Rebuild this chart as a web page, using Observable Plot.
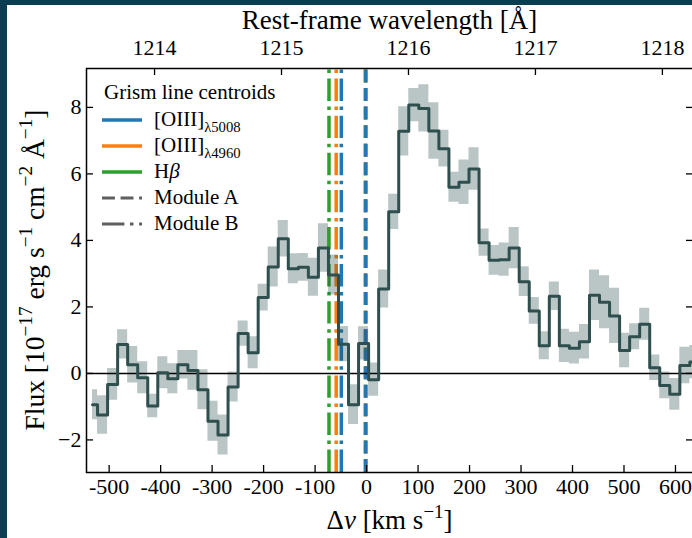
<!DOCTYPE html>
<html><head><meta charset="utf-8">
<script src="https://cdn.jsdelivr.net/npm/d3@7"></script>
<script src="https://cdn.jsdelivr.net/npm/@observablehq/plot@0.6"></script>
<style>
html,body{margin:0;padding:0;background:#0b3d50;overflow:hidden;width:692px;height:538px}
#card{position:absolute;left:7px;top:5px;width:700px;height:540px;background:#fff;color:#000;overflow:hidden}
</style></head><body><div id="card"></div>
<script>
// ---- data ----
const velocity = [-532.3,-512.8,-493.3,-473.8,-454.3,-434.8,-415.3,-395.8,-376.3,-356.8,
  -337.3,-317.8,-298.3,-278.8,-259.3,-239.8,-220.3,-200.8,-181.3,-161.8,
  -142.3,-122.8,-103.3,-83.8,-64.3,-44.8,-25.3,-5.8,13.7,33.2,
  52.7,72.2,91.7,111.2,130.7,150.2,169.7,189.2,208.7,228.2,
  247.7,267.2,286.7,306.2,325.7,345.2,364.7,384.2,403.7,423.2,
  442.7,462.2,481.7,501.2,520.7,540.2,559.7,579.2,598.7,618.2,637.7];
const flux = [-0.94,-1.25,-0.33,0.87,0.26,-0.13,-0.98,0.02,-0.16,0.26,
  0.09,-0.49,-1.44,-1.85,-0.41,1.20,0.62,2.28,3.20,4.05,
  3.15,3.19,2.89,3.77,2.96,0.88,-0.94,0.90,-0.19,2.54,
  4.86,7.28,8.07,7.97,7.29,6.76,5.60,5.75,6.15,3.93,
  3.40,3.42,3.77,2.76,1.88,0.83,2.32,0.83,0.76,0.95,
  2.35,2.14,1.73,0.69,1.10,1.48,0.17,-0.36,-0.63,0.24,0.34];
const fluxErr = [0.45,0.58,0.48,0.44,0.55,0.48,0.35,0.48,0.45,0.43,
  0.60,0.60,0.60,0.60,0.45,0.38,0.48,0.40,0.60,0.55,
  0.45,0.42,0.57,0.73,0.60,0.53,0.60,0.50,0.50,0.57,
  0.53,0.74,0.50,0.71,0.85,0.55,0.45,0.67,0.64,0.41,
  0.45,0.50,0.62,0.45,0.40,0.42,0.43,0.50,0.48,0.52,
  0.76,0.80,0.83,0.52,0.39,0.48,0.38,0.40,0.48,0.55,0.50];

const xTicks = [-500,-400,-300,-200,-100,0,100,200,300,400,500,600];
const yTicks = [-2,0,2,4,6,8];
const waveTicks = [1214,1215,1216,1217,1218];
const lyaRest = 1215.67;
const cLight = 299792.458;

const lineNames = ["[OIII]", "[OIII]", "H"];
const lineSubs = ["λ5008", "λ4960", ""];
const lineColors = ["#1f77b4", "#ff7f0e", "#2ca02c"];
const moduleAVel = [-1.5, -1.5, -2.5];
const moduleBVel = [-49, -59, -73];
const moduleLabels = ["Module A", "Module B"];

const xDomain = [-544, 635];
const yDomain = [-2.98, 9.17];

// ---- build ----
const W = 700, H = 533;
const mL = 79, mR = 14, mT = 63, mB = 66;
const FW = W - mL - mR, FH = H - mT - mB;
const tick = 7;
const dashA = "12.95,5.6";
const dashB = "22.4,5.6,3.5,5.6";

const table = velocity.map((v, i) => ({v, f: flux[i], lo: flux[i] - fluxErr[i], hi: flux[i] + fluxErr[i]}));
const vlinesA = [2,1,0].map(i => ({v: moduleAVel[i], c: lineColors[i]}));
const vlinesB = [2,1,0].map(i => ({v: moduleBVel[i], c: lineColors[i]}));
const topTickVel = waveTicks.map(w => cLight * (w / lyaRest - 1));

const plot = Plot.plot({
  width: W, height: H,
  marginLeft: mL, marginRight: mR, marginTop: mT, marginBottom: mB,
  style: {fontFamily: "'Liberation Serif', serif", fontSize: "22px", background: "white", color: "black", overflow: "visible"},
  x: {domain: xDomain},
  y: {domain: yDomain},
  marks: [
    Plot.ruleX(vlinesB, {x: "v", y1: yDomain[0], y2: yDomain[1], stroke: "c", strokeWidth: 3.5, strokeDasharray: dashB}),
    Plot.ruleX(vlinesA, {x: "v", y1: yDomain[0], y2: yDomain[1], stroke: "c", strokeWidth: 3.5, strokeDasharray: dashA}),
    Plot.areaY(table, {x: "v", y1: "lo", y2: "hi", curve: "step", fill: "#2f4f4f", fillOpacity: 0.33, clip: true}),
    Plot.ruleY([0], {stroke: "black", strokeWidth: 1.5}),
    Plot.line(table, {x: "v", y: "f", curve: "step", stroke: "#2f4f4f", strokeWidth: 3, clip: true}),
    // tick labels
    Plot.axisX({anchor: "bottom", ticks: xTicks, tickSize: 0, tickPadding: 6, tickFormat: d => String(d), label: null}),
    Plot.axisX({anchor: "top", ticks: topTickVel, tickSize: 0, tickPadding: 14,
      tickFormat: v => String(Math.round(lyaRest * (1 + v / cLight))), label: null}),
    Plot.axisY({anchor: "left", ticks: yTicks, tickSize: 0, tickPadding: 5, label: null}),
    // inward tick marks
    Plot.ruleX(xTicks, {x: d => d, insetTop: FH - tick, stroke: "black", strokeWidth: 1.3}),
    Plot.ruleX(topTickVel, {x: d => d, insetBottom: FH - tick, stroke: "black", strokeWidth: 1.3}),
    Plot.ruleY(yTicks, {y: d => d, insetRight: FW - tick, stroke: "black", strokeWidth: 1.3}),
    Plot.ruleY(yTicks, {y: d => d, insetLeft: FW - tick, stroke: "black", strokeWidth: 1.3}),
    Plot.frame({stroke: "black", strokeWidth: 1.5})
  ]
});
document.getElementById("card").appendChild(plot);

// ---- titles and legend ----
const svg = d3.select(plot);
function rich(parent, parts, size, anchor) {
  const t = parent.append("text").attr("font-size", size).attr("fill", "black").attr("text-anchor", anchor || "start");
  let shift = 0;
  for (const [s, k] of parts) {
    let target = 0, fs = size;
    if (k === "sup") { target = -0.42 * size; fs = 0.7 * size; }
    if (k === "sub") { target = 0.28 * size; fs = 0.7 * size; }
    const ts = t.append("tspan").text(s).attr("font-size", fs);
    if (target - shift !== 0) ts.attr("dy", target - shift);
    if (k === "i") ts.attr("font-style", "italic");
    shift = target;
  }
  return t;
}
const cx = mL + FW / 2;
rich(svg, [["Rest-frame wavelength [Å]", "n"]], 27, "middle")
  .attr("x", cx).attr("y", 24);
rich(svg, [["Δ", "n"], ["v", "i"], [" [km s", "n"], ["−1", "sup"], ["]", "n"]], 27, "middle")
  .attr("x", cx).attr("y", 524);
rich(svg, [["Flux [10", "n"], ["−17", "sup"], [" erg s", "n"], ["−1", "sup"], [" cm", "n"], ["−2", "sup"], [" Å", "n"], ["−1", "sup"], ["]", "n"]], 27.5, "middle")
  .attr("transform", `translate(${37},${mT + FH / 2}) rotate(-90)`);

const lg = svg.append("g");
const lx0 = 95, lx1 = 135, ltx = 147;
rich(lg, [["Grism line centroids", "n"]], 21).attr("x", 97).attr("y", 94);
const rows = [115, 141, 167, 193, 219];
for (let i = 0; i < 3; i++) {
  lg.append("line").attr("x1", lx0).attr("x2", lx1).attr("y1", rows[i]).attr("y2", rows[i])
    .attr("stroke", lineColors[i]).attr("stroke-width", 3.5);
  const parts = i < 2 ? [[lineNames[i], "n"], [lineSubs[i], "sub"]] : [["H", "n"], ["β", "i"]];
  rich(lg, parts, 21).attr("x", ltx).attr("y", rows[i] + 6);
}
[dashA, dashB].forEach((d, j) => {
  const y = rows[3 + j];
  lg.append("line").attr("x1", lx0).attr("x2", lx1).attr("y1", y).attr("y2", y)
    .attr("stroke", "#5f5f5f").attr("stroke-width", 3).attr("stroke-dasharray", d);
  rich(lg, [[moduleLabels[j], "n"]], 21).attr("x", ltx).attr("y", y + 6);
});
</script></body></html>
